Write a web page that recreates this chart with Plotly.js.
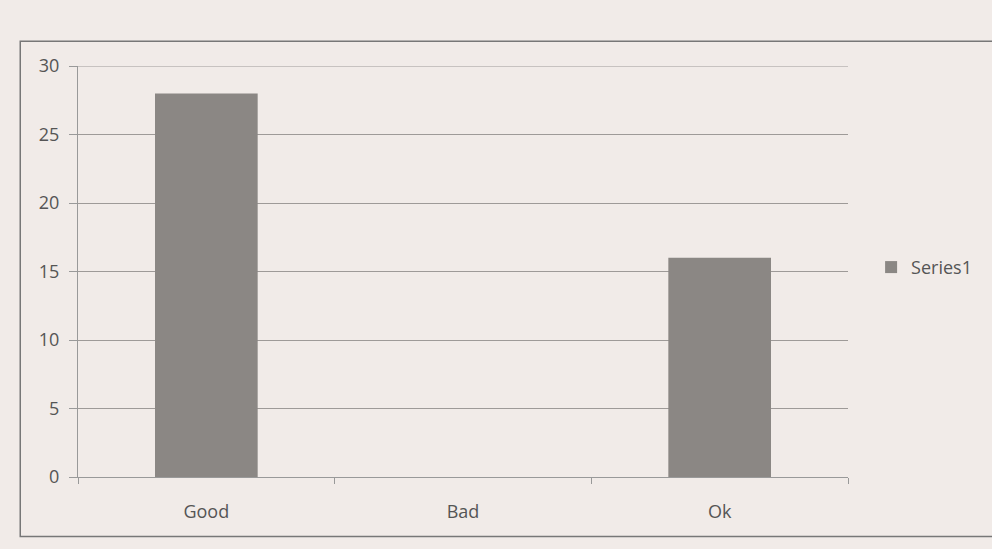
<!DOCTYPE html>
<html>
<head>
<meta charset="utf-8">
<script src="https://cdn.plot.ly/plotly-3.0.1.min.js"></script>
<style>
html,body{margin:0;padding:0;background:#f1ebe8;}
#chart{width:992px;height:549px;}
</style>
</head>
<body>
<div id="chart"></div>
<script>
const categories = ["Good", "Bad", "Ok"];
const series1 = [28, 0, 16];
const yTicks = [0, 5, 10, 15, 20, 25, 30];

const trace = {
  type: "bar",
  name: "Series1",
  x: categories,
  y: series1,
  marker: {color: "#8b8784", line: {width: 0}},
  showlegend: true
};

const layout = {
  width: 992,
  height: 549,
  paper_bgcolor: "#f1ebe8",
  plot_bgcolor: "#f1ebe8",
  margin: {l: 78, r: 144, t: 66, b: 72},
  bargap: 0.6,
  font: {family: "Open Sans, Liberation Sans, sans-serif", color: "#555", size: 18},
  xaxis: {
    type: "category",
    showline: true, linecolor: "#999", linewidth: 1,
    ticks: "outside", tickson: "boundaries", ticklen: 6, tickcolor: "#999",
    showgrid: false,
    ticklabelstandoff: 18,
    tickfont: {size: 18, color: "#555"}
  },
  yaxis: {
    range: [0, 30],
    tickvals: yTicks,
    showline: true, linecolor: "#999", linewidth: 1,
    ticks: "outside", ticklen: 8, tickcolor: "#999",
    showgrid: true, gridcolor: "#9e9a98", gridwidth: 1,
    zeroline: false,
    ticklabelstandoff: 6,
    tickfont: {size: 18, color: "#555"}
  },
  legend: {
    x: 1.03, y: 0.51, xanchor: "left", yanchor: "middle",
    bgcolor: "rgba(0,0,0,0)",
    itemwidth: 30,
    font: {size: 18, color: "#555"}
  },
  shapes: [
    {type: "line", xref: "paper", yref: "y", x0: 0, x1: 1, y0: 30, y1: 30,
     line: {color: "#9e9a98", width: 1}},
    {type: "rect", xref: "paper", yref: "paper", x0: -0.075, x1: 1.22, y0: -0.145, y1: 1.06,
     line: {color: "#777", width: 1.5}}
  ]
};

Plotly.newPlot("chart", [trace], layout, {displayModeBar: false, staticPlot: true});
</script>
</body>
</html>
